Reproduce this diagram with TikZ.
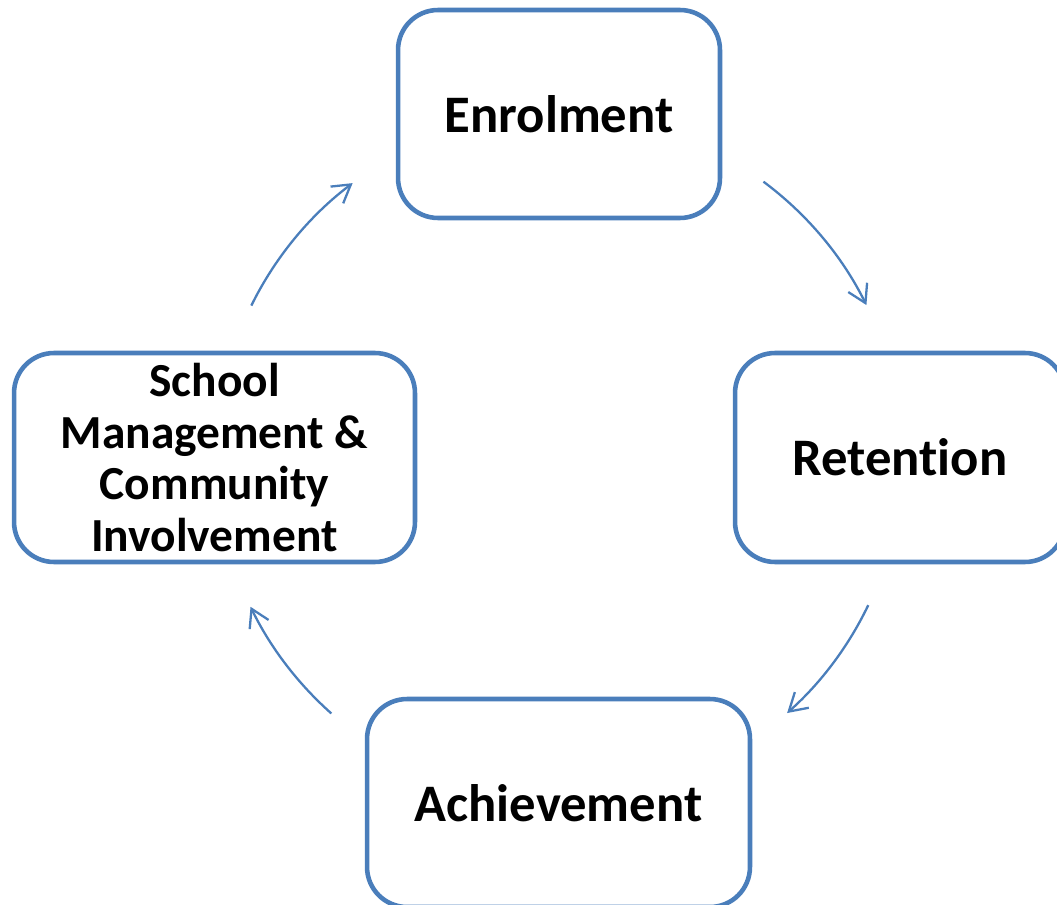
\documentclass[tikz,border=0pt]{standalone}
\usepackage{fontspec}
\setmainfont{Carlito}[Ligatures=NoCommon]
\usetikzlibrary{arrows.meta}
\definecolor{boxblue}{RGB}{74,126,187}

\begin{document}
\begin{tikzpicture}[x=0.02cm,y=-0.02cm,
        stage/.style={draw=boxblue,line width=2.6pt,rounded corners=0.8cm,align=center,inner sep=0pt,
            font=\bfseries\fontsize{30}{31}\selectfont},
        cyc/.style={draw=boxblue,line width=1.3pt,-{Straight Barb[length=3.5mm,width=4.2mm]}}]
        \useasboundingbox (0,0) rectangle (1057,905);
        % the four stages
        \node[stage,minimum width=6.44cm,minimum height=4.16cm] (enrol) at (559,114) {Enrolment};
        \node[stage,minimum width=6.6cm,minimum height=4.18cm] (retain) at (900,457.5) {Retention};
        \node[stage,minimum width=7.66cm,minimum height=4.16cm] (achieve) at (558.5,803) {Achievement};
        \node[stage,minimum width=8.02cm,minimum height=4.18cm,
            font=\bfseries\fontsize{27}{29.5}\selectfont] (manage) at (214.5,457.5) {School\\Management \&\\Community\\Involvement};
        % arrows round the cycle
        \coordinate (hub) at (559,457);
        \draw[cyc] ([shift={(53.4:6.86cm)}]hub) arc (53.4:26.3:6.86cm);
        \draw[cyc] ([shift={(-25.6:6.86cm)}]hub) arc (-25.6:-48.3:6.86cm);
        \draw[cyc] ([shift={(-131.6:6.86cm)}]hub) arc (-131.6:-154.1:6.86cm);
        \draw[cyc] ([shift={(153.8:6.86cm)}]hub) arc (153.8:127:6.86cm);
    \end{tikzpicture}
\end{document}
